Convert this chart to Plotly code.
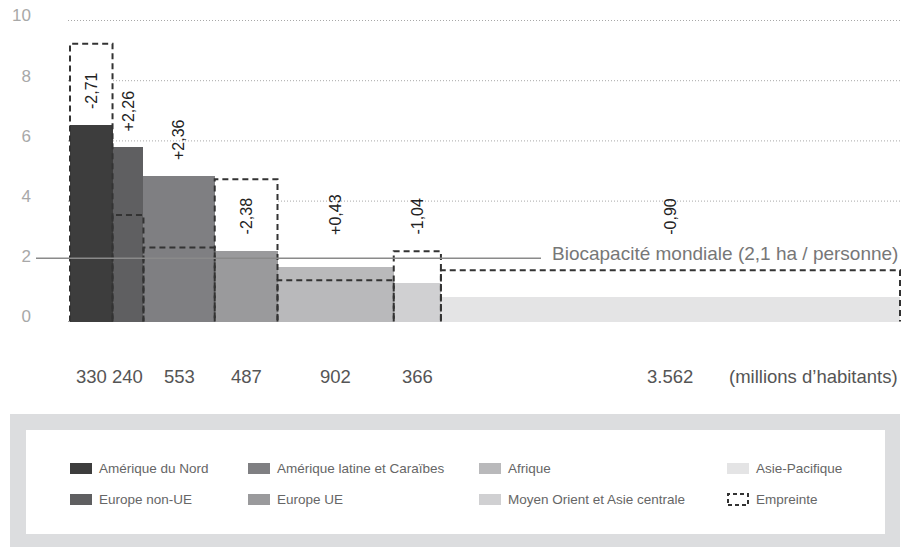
import plotly.graph_objects as go

# Regions, population (millions), biocapacity and ecological footprint (gha / person)
regions = ["Amérique du Nord", "Europe non-UE", "Amérique latine et Caraïbes",
           "Europe UE", "Afrique", "Moyen Orient et Asie centrale", "Asie-Pacifique"]
population = [330, 240, 553, 487, 902, 366, 3562]
biocapacity = [6.52, 5.80, 4.82, 2.35, 1.80, 1.29, 0.80]
footprint = [9.23, 3.54, 2.46, 4.73, 1.37, 2.33, 1.70]
colors = ["#3d3d3d", "#5f5f61", "#7f7f82", "#9a9a9c", "#b9b9bb", "#d0d0d2", "#e4e4e5"]
world_biocapacity = 2.1
y_ticks = [0, 2, 4, 6, 8, 10]

FONT = "Liberation Sans, Arial, Helvetica, sans-serif"

# Page geometry
W, H = 904, 547
ML, MR, MT, MB = 68, 2, 19, 224
PW, PH = W - ML - MR, H - MT - MB


def px_x(px):
    return (px - ML) / PW


def px_y(py):
    return (H - MB - py) / PH


# Bar edges from cumulative population
lefts, centers = [], []
acc = 0
for p in population:
    lefts.append(acc)
    centers.append(acc + p / 2)
    acc += p
rights = [l + p for l, p in zip(lefts, population)]

fig = go.Figure()

# White backing of the footprint boxes (hides the grid behind them)
fig.add_trace(go.Bar(x=centers, y=footprint, width=population,
                     marker=dict(color="white", line=dict(width=0)),
                     hoverinfo="skip", showlegend=False))

# Biocapacity bars
fig.add_trace(go.Bar(x=centers, y=biocapacity, width=population,
                     marker=dict(color=colors, line=dict(width=0)),
                     hovertext=regions, showlegend=False))

# Dashed footprint outlines
ox, oy = [], []
for l, r, f in zip(lefts, rights, footprint):
    ox += [l, l, r, r, None]
    oy += [0, f, f, 0, None]
fig.add_trace(go.Scatter(x=ox, y=oy, mode="lines",
                         line=dict(color="#333333", width=2, dash="6px,4px"),
                         hoverinfo="skip", showlegend=False))

shapes = []
# Dotted grid
for g in [0, 4, 6, 8, 10]:
    shapes.append(dict(type="line", xref="paper", yref="y", x0=0, x1=1, y0=g, y1=g,
                       line=dict(color="#a8a8a8", width=1, dash="1px,2px"), layer="below"))

# World biocapacity line
shapes.append(dict(type="line", xref="paper", yref="y", x0=px_x(36), x1=px_x(541),
                   y0=world_biocapacity, y1=world_biocapacity,
                   line=dict(color="#8a8a8a", width=1.5), layer="above"))

annotations = []
annotations.append(dict(xref="paper", yref="y", x=px_x(900), y=world_biocapacity,
                        xanchor="right", yanchor="middle", yshift=5, showarrow=False,
                        text="Biocapacité mondiale (2,1 ha / personne)",
                        font=dict(family=FONT, size=19, color="#777777")))

# Difference labels (biocapacity - footprint)
for c, b, f in zip(centers, biocapacity, footprint):
    d = b - f
    label = f"{d:+.2f}".replace(".", ",")
    annotations.append(dict(x=c, y=max(b, 2.35), xref="x", yref="y", textangle=-90,
                            xanchor="center", yanchor="bottom", yshift=14, showarrow=False,
                            text=label, font=dict(family=FONT, size=16, color="#222222")))

# Population labels
for c, p in zip(centers, population):
    annotations.append(dict(x=c, y=0, xref="x", yref="y", yshift=-55,
                            xanchor="center", yanchor="middle", showarrow=False,
                            text=f"{p:,}".replace(",", "."),
                            font=dict(family=FONT, size=18.5, color="#555555")))
annotations.append(dict(x=px_x(900), y=0, xref="paper", yref="y", yshift=-55,
                        xanchor="right", yanchor="middle", showarrow=False,
                        text="(millions d’habitants)",
                        font=dict(family=FONT, size=18.5, color="#555555")))

# Legend panel
shapes.append(dict(type="rect", xref="paper", yref="paper",
                   x0=px_x(10), x1=px_x(900), y0=px_y(547), y1=px_y(414),
                   fillcolor="#dcdddf", line=dict(width=0), layer="below"))
shapes.append(dict(type="rect", xref="paper", yref="paper",
                   x0=px_x(26), x1=px_x(885), y0=px_y(534), y1=px_y(430),
                   fillcolor="white", line=dict(width=0), layer="below"))

col_px = [70, 248, 479, 727]
row_px = [468.5, 499.5]
legend_items = list(zip(regions, colors)) + [("Empreinte", None)]
for i, (name, col) in enumerate(legend_items):
    cx = col_px[i // 2]
    cy = row_px[i % 2]
    if col is not None:
        shapes.append(dict(type="rect", xref="paper", yref="paper",
                           x0=px_x(cx), x1=px_x(cx + 22), y0=px_y(cy + 5.5), y1=px_y(cy - 5.5),
                           fillcolor=col, line=dict(width=0), layer="above"))
    else:
        shapes.append(dict(type="rect", xref="paper", yref="paper",
                           x0=px_x(cx + 1), x1=px_x(cx + 21), y0=px_y(cy + 5.5), y1=px_y(cy - 5.5),
                           fillcolor="rgba(0,0,0,0)",
                           line=dict(color="#333333", width=2, dash="4px,3px"), layer="above"))
    annotations.append(dict(xref="paper", yref="paper", x=px_x(cx + 27), y=px_y(cy),
                            xanchor="left", yanchor="middle", showarrow=False, text=name,
                            font=dict(family=FONT, size=13.5, color="#666666")))

fig.update_layout(
    width=W, height=H,
    margin=dict(l=ML, r=MR, t=MT, b=MB, pad=0),
    paper_bgcolor="white", plot_bgcolor="white",
    barmode="overlay", bargap=0,
    showlegend=False,
    shapes=shapes, annotations=annotations,
    xaxis=dict(range=[-15.5, sum(population) + 15.5], visible=False, fixedrange=True),
    yaxis=dict(range=[-0.05, 10.05], tickvals=y_ticks, ticktext=[str(t) for t in y_ticks],
               showgrid=False, zeroline=False, showline=False, ticks="",
               ticklabelstandoff=36, ticklabelshift=-5,
               tickfont=dict(family=FONT, size=17, color="#a8a8a8"), fixedrange=True),
    font=dict(family=FONT),
)

fig.write_html("out.html", config={"displayModeBar": False})
